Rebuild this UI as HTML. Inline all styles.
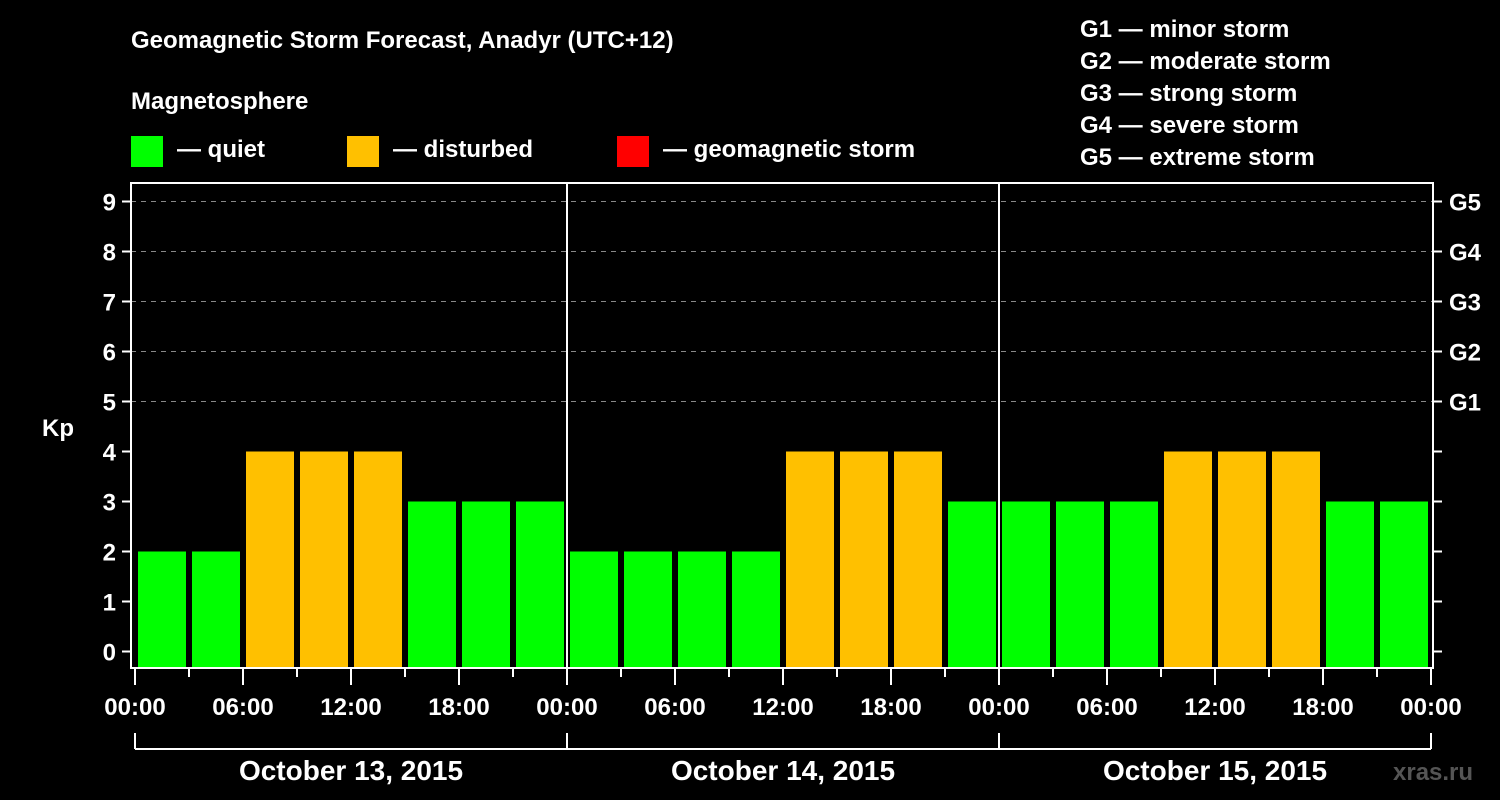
<!DOCTYPE html>
<html><head><meta charset="utf-8">
<style>
html,body{margin:0;padding:0;background:#000;}
svg{display:block;font-family:"Liberation Sans",Arial,sans-serif;font-weight:bold;}
</style></head>
<body>
<svg id="chart" width="1500" height="800" viewBox="0 0 1500 800" xmlns="http://www.w3.org/2000/svg">
<rect x="0" y="0" width="1500" height="800" fill="#000"/>
<text x="131" y="48" fill="#fff" font-size="24">Geomagnetic Storm Forecast, Anadyr (UTC+12)</text>
<text x="131" y="109" fill="#fff" font-size="24">Magnetosphere</text>
<rect x="131" y="136" width="32" height="31" fill="#00ff00"/>
<text x="177" y="157" fill="#fff" font-size="24">— quiet</text>
<rect x="347" y="136" width="32" height="31" fill="#ffc000"/>
<text x="393" y="157" fill="#fff" font-size="24">— disturbed</text>
<rect x="617" y="136" width="32" height="31" fill="#ff0000"/>
<text x="663" y="157" fill="#fff" font-size="24">— geomagnetic storm</text>
<g fill="#fff" font-size="24">
<text x="1080" y="37">G1 — minor storm</text>
<text x="1080" y="69">G2 — moderate storm</text>
<text x="1080" y="101">G3 — strong storm</text>
<text x="1080" y="133">G4 — severe storm</text>
<text x="1080" y="165">G5 — extreme storm</text>
</g>
<text x="42" y="436" fill="#fff" font-size="24">Kp</text>
<text x="1393" y="780" fill="#555" font-size="24">xras.ru</text>
<g id="plot"></g>
</svg>
<script>
const days = ["October 13, 2015","October 14, 2015","October 15, 2015"];
const values = [2,2,4,4,4,3,3,3, 2,2,2,2,4,4,4,3, 3,3,3,4,4,4,3,3];
const yTicks = [0,1,2,3,4,5,6,7,8,9];
const gLabels = ["G1","G2","G3","G4","G5"];
const gLevels = [5,6,7,8,9];
const hourLabels = ["00:00","06:00","12:00","18:00"];

const NS="http://www.w3.org/2000/svg";
const plot=document.getElementById('plot');
const X0=135, SLOT=54, Y0=651.5, UNIT=50, LEFT=131, RIGHT=1433, TOP=183, BOTTOM=668;
const xs=i=>X0+i*SLOT;
const ys=v=>Y0-v*UNIT;
function mk(tag,attrs){const e=document.createElementNS(NS,tag);for(const k in attrs)e.setAttribute(k,attrs[k]);plot.appendChild(e);return e;}

// gridlines
yTicks.forEach(v=>{
  if(v>=5){const g=mk('line',{x1:LEFT,x2:RIGHT,y1:ys(v),y2:ys(v),stroke:'#888','stroke-width':1,'stroke-dasharray':'5,5'});
  
  }
});
// bars
values.forEach((v,i)=>{
  const b=mk('rect',{x:xs(i)+3,y:ys(v),width:48,height:BOTTOM-ys(v),fill:v>=5?'#ff0000':(v>=4?'#ffc000':'#00ff00')});
  
  
});
// frame
const fr=mk('rect',{x:LEFT,y:TOP,width:RIGHT-LEFT,height:BOTTOM-TOP,fill:'none',stroke:'#fff','stroke-width':2});


// day separators
for(let d=1;d<days.length;d++){
  const s=mk('line',{x1:xs(d*8),x2:xs(d*8),y1:TOP,y2:BOTTOM,stroke:'#fff','stroke-width':2});
  
  
}
// y ticks & labels
yTicks.forEach(v=>{
  const t=mk('line',{x1:LEFT-9,x2:LEFT,y1:ys(v),y2:ys(v),stroke:'#fff','stroke-width':2});
  
  
  const l=mk('text',{x:LEFT-15,y:ys(v)+9,fill:'#fff','font-size':24,'text-anchor':'end'});
  l.textContent=v;
  
  
  const r=mk('line',{x1:RIGHT,x2:RIGHT+9,y1:ys(v),y2:ys(v),stroke:'#fff','stroke-width':2});
  
  
});
gLabels.forEach((g,i)=>{
  const l=mk('text',{x:1449,y:ys(gLevels[i])+9,fill:'#fff','font-size':24});
  l.textContent=g;
  
  
});
// x ticks
for(let i=0;i<=values.length;i++){
  const major=i%2===0;
  const t=mk('line',{x1:xs(i),x2:xs(i),y1:BOTTOM,y2:BOTTOM+(major?17:9),stroke:'#fff','stroke-width':2});
  
  
  if(major){
    const l=mk('text',{x:xs(i),y:715,fill:'#fff','font-size':24,'text-anchor':'middle'});
    l.textContent=(i===values.length)?hourLabels[0]:hourLabels[(i/2)%4];
    
    
  }
}
// day brackets
const bl=mk('line',{x1:xs(0),x2:xs(values.length),y1:749,y2:749,stroke:'#fff','stroke-width':2});


for(let d=0;d<=days.length;d++){
  const t=mk('line',{x1:xs(d*8),x2:xs(d*8),y1:733,y2:749,stroke:'#fff','stroke-width':2});
  
  
}
days.forEach((d,i)=>{
  const l=mk('text',{x:xs(i*8+4),y:780,fill:'#fff','font-size':28,'text-anchor':'middle'});
  l.textContent=d;
  
  
});
</script>
</body></html>
